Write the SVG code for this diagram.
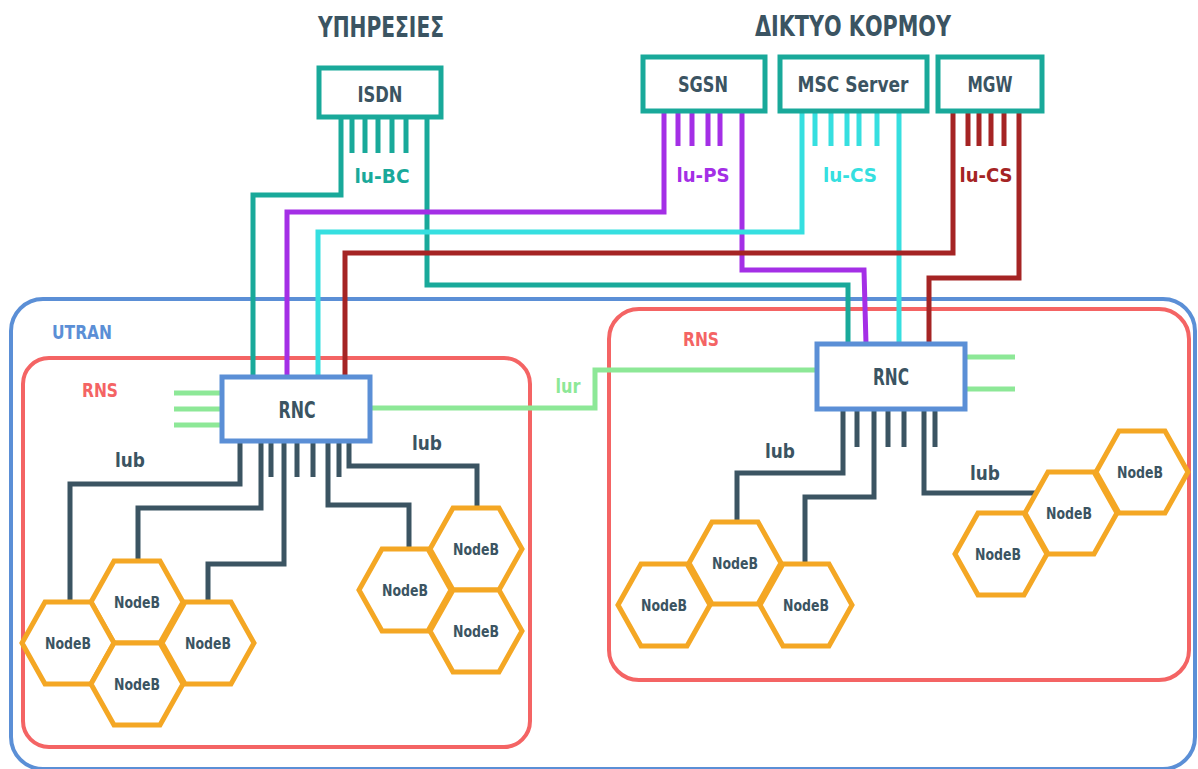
<svg xmlns="http://www.w3.org/2000/svg" width="1198" height="769" viewBox="0 0 1198 769">
<style>
text{font-family:'DejaVu Sans Condensed','DejaVu Sans',sans-serif;font-weight:bold;text-anchor:middle}
.dark{fill:#3b5462}
.title{font-size:29px}
.box{font-size:21px}
.nb{font-size:16px;fill:#3b5462}
.ln{fill:none;stroke-width:5;stroke-linejoin:miter;stroke-linecap:butt}
.teal{stroke:#19a99a}
.purple{stroke:#a42fe6}
.cyan{stroke:#36dfe0}
.red{stroke:#a52424}
.green{stroke:#8de897}
.slate{stroke:#3b5462}
.core{fill:#fff;stroke:#19a99a;stroke-width:5}
.rnc{fill:#fff;stroke:#5b8fd6;stroke-width:5}
.hexs{fill:#fff;stroke:#f4a724;stroke-width:5;stroke-linejoin:miter}
.area{fill:none;stroke-width:4}
</style>
<defs>
<polygon id="hex" points="-46,0 -23,-41 23,-41 46,0 23,41 -23,41"/>
</defs>
<rect width="1198" height="769" fill="#fff"/>

<g id="titles">
<text class="dark title" x="381" y="37" textLength="126" lengthAdjust="spacingAndGlyphs">ΥΠΗΡΕΣΙΕΣ</text>
<text class="dark title" x="853" y="36" textLength="196" lengthAdjust="spacingAndGlyphs">ΔΙΚΤΥΟ ΚΟΡΜΟΥ</text>
</g>

<g id="utran">
<rect class="area" x="11" y="299" width="1184" height="470" rx="32" stroke="#5b8fd6"/>
<text x="82" y="339" font-size="20" fill="#5b8fd6" textLength="60" lengthAdjust="spacingAndGlyphs">UTRAN</text>
</g>
<g id="rns-left">
<rect class="area" x="23" y="358" width="507" height="389" rx="26" stroke="#f46464"/>
<text x="100" y="397" font-size="20" fill="#f46464" textLength="36" lengthAdjust="spacingAndGlyphs">RNS</text>
</g>
<g id="rns-right">
<rect class="area" x="609" y="309" width="580" height="371" rx="30" stroke="#f46464"/>
<text x="701" y="346" font-size="20" fill="#f46464" textLength="36" lengthAdjust="spacingAndGlyphs">RNS</text>
</g>

<g id="connectors">
<polyline class="ln teal" points="341,117 341,195 253,195 253,377"/>
<polyline class="ln teal" points="427,117 427,285 848,285 848,344"/>
<path class="ln teal" d="M352,117V153M365,117V153M378,117V153M392,117V153M406,117V153"/>
<polyline class="ln purple" points="664,111 664,212 287,212 287,377"/>
<polyline class="ln purple" points="742,111 742,270 864,270 866,344"/>
<path class="ln purple" d="M678,111V146M692,111V146M708,111V146M720,111V146"/>
<polyline class="ln cyan" points="802,111 802,232 318,232 318,377"/>
<polyline class="ln cyan" points="899,111 899,344"/>
<path class="ln cyan" d="M815,111V146M831,111V146M847,111V146M859,111V146M877,111V146"/>
<polyline class="ln red" points="953,111 953,253 345,253 345,377"/>
<polyline class="ln red" points="1019,111 1019,278 929,278 929,344"/>
<path class="ln red" d="M968,111V146M979,111V146M991,111V146M1004,111V146"/>
<path class="ln green" d="M174,393H222M174,409H222M174,425H222"/>
<polyline class="ln green" points="371,408 595,408 595,370 816,370"/>
<path class="ln green" d="M965,357H1015M965,389H1015"/>
<polyline class="ln slate" points="240,441 240,484 70,484 70,602"/>
<polyline class="ln slate" points="261,441 261,508 138,508 138,562"/>
<polyline class="ln slate" points="284,441 284,564 208,564 208,602"/>
<polyline class="ln slate" points="328,441 328,505 409,505 409,549"/>
<polyline class="ln slate" points="349,441 349,466 477,466 477,508"/>
<path class="ln slate" d="M271,441V477M297,441V477M313,441V477M339,441V477"/>
<polyline class="ln slate" points="843,409 843,473 737,473 737,522"/>
<polyline class="ln slate" points="874,409 874,497 805,497 805,564"/>
<polyline class="ln slate" points="924,409 924,493 1036,493"/>
<path class="ln slate" d="M857,409V447M888,409V447M904,409V447M935,409V447"/>
</g>

<g id="labels">
<text x="382" y="183" font-size="20" fill="#19a99a" textLength="55" lengthAdjust="spacingAndGlyphs">lu-BC</text>
<text x="703" y="182" font-size="20" fill="#a42fe6" textLength="53" lengthAdjust="spacingAndGlyphs">lu-PS</text>
<text x="850" y="182" font-size="20" fill="#36dfe0" textLength="54" lengthAdjust="spacingAndGlyphs">lu-CS</text>
<text x="986" y="182" font-size="20" fill="#a52424" textLength="53" lengthAdjust="spacingAndGlyphs">lu-CS</text>
<text x="568" y="393" font-size="20" fill="#8de897" textLength="25" lengthAdjust="spacingAndGlyphs">lur</text>
<text class="dark" x="130" y="467" font-size="20" textLength="30" lengthAdjust="spacingAndGlyphs">lub</text>
<text class="dark" x="427" y="450" font-size="20" textLength="30" lengthAdjust="spacingAndGlyphs">lub</text>
<text class="dark" x="780" y="458" font-size="20" textLength="30" lengthAdjust="spacingAndGlyphs">lub</text>
<text class="dark" x="985" y="480" font-size="20" textLength="30" lengthAdjust="spacingAndGlyphs">lub</text>
</g>

<g id="isdn">
<rect class="core" x="319" y="68" width="122" height="49"/>
<text class="dark box" x="380" y="102" textLength="45" lengthAdjust="spacingAndGlyphs">ISDN</text>
</g>
<g id="sgsn">
<rect class="core" x="643" y="57" width="122" height="54"/>
<text class="dark box" x="703" y="92" textLength="50" lengthAdjust="spacingAndGlyphs">SGSN</text>
</g>
<g id="msc-server">
<rect class="core" x="780" y="57" width="147" height="54"/>
<text class="dark box" x="853" y="92" textLength="111" lengthAdjust="spacingAndGlyphs">MSC Server</text>
</g>
<g id="mgw">
<rect class="core" x="938" y="57" width="104" height="54"/>
<text class="dark box" x="990" y="92" textLength="45" lengthAdjust="spacingAndGlyphs">MGW</text>
</g>

<g id="rnc-left">
<rect class="rnc" x="222" y="377" width="148" height="64"/>
<text class="dark" x="297" y="418" font-size="23" textLength="37" lengthAdjust="spacingAndGlyphs">RNC</text>
</g>
<g id="rnc-right">
<rect class="rnc" x="817" y="344" width="148" height="65"/>
<text class="dark" x="891" y="385" font-size="23" textLength="36" lengthAdjust="spacingAndGlyphs">RNC</text>
</g>

<g id="nodeb-l1"><use href="#hex" class="hexs" x="137" y="602"/><text class="nb" x="137" y="608" textLength="46" lengthAdjust="spacingAndGlyphs">NodeB</text></g>
<g id="nodeb-l2"><use href="#hex" class="hexs" x="68" y="643"/><text class="nb" x="68" y="649" textLength="46" lengthAdjust="spacingAndGlyphs">NodeB</text></g>
<g id="nodeb-l3"><use href="#hex" class="hexs" x="208" y="643"/><text class="nb" x="208" y="649" textLength="46" lengthAdjust="spacingAndGlyphs">NodeB</text></g>
<g id="nodeb-l4"><use href="#hex" class="hexs" x="137" y="684"/><text class="nb" x="137" y="690" textLength="46" lengthAdjust="spacingAndGlyphs">NodeB</text></g>

<g id="nodeb-m1"><use href="#hex" class="hexs" x="476" y="549"/><text class="nb" x="476" y="555" textLength="46" lengthAdjust="spacingAndGlyphs">NodeB</text></g>
<g id="nodeb-m2"><use href="#hex" class="hexs" x="405" y="590"/><text class="nb" x="405" y="596" textLength="46" lengthAdjust="spacingAndGlyphs">NodeB</text></g>
<g id="nodeb-m3"><use href="#hex" class="hexs" x="476" y="631"/><text class="nb" x="476" y="637" textLength="46" lengthAdjust="spacingAndGlyphs">NodeB</text></g>

<g id="nodeb-r1"><use href="#hex" class="hexs" x="735" y="563"/><text class="nb" x="735" y="569" textLength="46" lengthAdjust="spacingAndGlyphs">NodeB</text></g>
<g id="nodeb-r2"><use href="#hex" class="hexs" x="664" y="605"/><text class="nb" x="664" y="611" textLength="46" lengthAdjust="spacingAndGlyphs">NodeB</text></g>
<g id="nodeb-r3"><use href="#hex" class="hexs" x="806" y="605"/><text class="nb" x="806" y="611" textLength="46" lengthAdjust="spacingAndGlyphs">NodeB</text></g>

<g id="nodeb-s1"><use href="#hex" class="hexs" x="1001" y="554"/><text class="nb" x="998" y="560" textLength="46" lengthAdjust="spacingAndGlyphs">NodeB</text></g>
<g id="nodeb-s2"><use href="#hex" class="hexs" x="1071" y="513"/><text class="nb" x="1069" y="519" textLength="46" lengthAdjust="spacingAndGlyphs">NodeB</text></g>
<g id="nodeb-s3"><use href="#hex" class="hexs" x="1142" y="472"/><text class="nb" x="1140" y="478" textLength="46" lengthAdjust="spacingAndGlyphs">NodeB</text></g>
</svg>
